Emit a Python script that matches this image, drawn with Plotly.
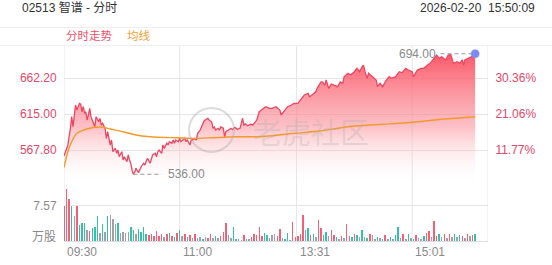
import plotly.graph_objects as go

# ---------------- data ----------------
title_text = "02513 智谱 - 分时"
stamp_text = "2026-02-20  15:50:09"
legend_names = ["分时走势", "均线"]

# minutes since 09:30 (trading minutes) and last price
minutes = [0, 3, 5, 6, 7, 8, 9, 10, 12, 13, 14, 15, 16, 17, 18, 19, 20, 21, 23, 24,
           25, 27, 28, 29, 30, 32, 33, 34, 36, 37, 38, 40, 41, 42, 43, 45, 46, 47, 49, 50,
           51, 52, 53, 54, 55, 56, 58, 59, 60, 62, 63, 64, 65, 67, 68, 69, 71, 72, 73, 74,
           76, 77, 78, 80, 81, 82, 84, 85, 86, 87, 89, 90, 91, 93, 94, 95, 96, 98, 99, 100,
           102, 103, 104, 106, 107, 108, 109, 111, 112, 113, 115, 116, 117, 118, 120, 121, 122, 124, 125, 126,
           128, 130, 131, 133, 135, 137, 138, 139, 140, 141, 143, 145, 147, 148, 150, 152, 155, 157, 160, 162,
           165, 168, 169, 171, 174, 177, 179, 182, 184, 187, 190, 191, 193, 196, 197, 200, 201, 203, 204, 206,
           208, 210, 213, 215, 217, 218, 221, 223, 226, 228, 230, 232, 233, 235, 236, 237, 240, 243, 244, 246,
           248, 250, 253, 255, 258, 261, 263, 266, 268, 271, 272, 275, 278, 280, 283, 285, 288, 290, 292, 294,
           297, 299, 301, 302, 303, 306, 308, 310, 311, 312, 315, 317, 319, 320]
prices = [560.0, 574.4, 596.3, 611.5, 598.3, 613.7, 626.8, 620.2, 629.0, 628.0, 618.0, 624.6, 615.9, 618.0, 607.1, 613.7, 622.4, 611.5, 602.8, 598.4,
          611.5, 604.9, 609.3, 600.6, 602.8, 596.2, 583.1, 591.8, 574.4, 580.9, 565.6, 570.0, 563.5, 567.8, 559.0, 565.6, 554.7, 559.0, 552.5, 561.3,
          554.7, 550.0, 541.0, 536.0, 538.5, 543.8, 538.0, 541.6, 545.9, 550.4, 548.0, 553.0, 556.9, 550.4, 556.9, 561.3, 563.5, 559.0, 565.6, 567.8,
          563.5, 574.4, 570.0, 576.6, 574.4, 578.7, 576.6, 580.9, 576.6, 580.9, 578.7, 583.1, 578.7, 580.9, 583.1, 578.7, 580.9, 574.4, 580.9, 580.9,
          583.1, 580.9, 589.7, 594.0, 598.0, 602.8, 605.8, 608.4, 609.4, 607.1, 604.5, 596.3, 598.0, 594.0, 596.3, 594.0, 598.0, 596.3, 585.2, 591.8,
          594.0, 596.3, 594.5, 597.5, 595.0, 596.3, 602.8, 609.4, 600.6, 602.0, 599.5, 601.5, 600.6, 602.8, 607.1, 618.0, 622.5, 624.6, 622.5, 622.5,
          624.6, 620.2, 613.7, 618.0, 624.6, 626.8, 629.0, 629.0, 633.4, 639.9, 642.1, 637.7, 639.9, 644.2, 648.7, 657.0, 657.3, 653.0, 659.6, 648.7,
          654.3, 653.0, 650.8, 657.0, 655.3, 663.9, 668.4, 666.1, 670.5, 674.9, 670.5, 677.0, 679.2, 666.1, 661.8, 668.4, 663.9, 659.6, 650.8, 655.3,
          650.8, 657.3, 663.9, 661.8, 663.9, 670.5, 669.0, 674.9, 672.7, 670.5, 663.9, 672.7, 674.9, 674.9, 679.2, 681.5, 688.0, 692.4, 688.0, 690.1,
          685.8, 692.4, 693.0, 688.0, 681.5, 683.6, 681.5, 685.8, 679.2, 685.8, 688.0, 690.1, 692.4, 694.0]

avg_minutes = [0, 3, 6, 10, 15, 20, 25, 30, 36, 46, 56, 67, 86, 102, 115, 133, 152, 180, 199, 221, 247, 261, 283, 294, 320]
avg_prices = [545.0, 565.6, 578.7, 589.7, 594.0, 596.3, 597.6, 597.6, 595.3, 591.8, 587.5, 585.2, 583.9, 583.1, 583.9, 585.2, 585.2,
              589.7, 592.7, 598.3, 601.5, 602.8, 606.2, 608.1, 611.5]

# volume (万股) per 2-minute slot and tick direction (1 up, -1 down, 0 flat)
vol_minutes = list(range(0, 321, 2))
volumes = [7.6, 11.1, 9.0, 7.6, 5.3, 7.6, 3.5, 3.9, 3.8, 2.4, 2.2, 2.8, 3.1, 5.3, 1.8, 3.6, 1.9, 5.3, 5.6, 4.8,
           3.6, 3.9, 1.8, 2.0, 1.7, 1.9, 3.1, 2.4, 1.6, 2.5, 1.9, 3.0, 1.6, 1.2, 1.5, 1.0, 2.1, 1.0, 1.6, 0.9,
           1.5, 1.8, 1.1, 0.8, 1.7, 2.3, 1.0, 1.4, 0.8, 1.2, 0.7, 1.5, 0.6, 0.8, 0.5, 0.9, 0.7, 1.4, 0.6, 1.1,
           0.6, 1.1, 1.9, 3.9, 1.2, 0.7, 3.1, 0.4, 0.5, 0.3, 1.3, 0.5, 0.4, 0.9, 1.6, 1.3, 3.0, 1.0, 1.8, 1.3,
           0.7, 1.2, 1.5, 1.0, 2.5, 0.7, 0.5, 1.8, 0.3, 4.1, 0.8, 1.1, 1.4, 5.6, 2.3, 2.8, 1.2, 1.5, 0.9, 4.6,
           2.8, 1.3, 1.9, 1.0, 2.3, 1.3, 0.8, 0.5, 1.1, 0.7, 3.6, 1.1, 0.9, 1.6, 1.2, 0.8, 2.4, 0.9, 0.6, 1.5,
           1.3, 0.4, 0.8, 0.6, 0.5, 1.2, 0.4, 0.9, 0.5, 1.2, 2.9, 0.6, 1.4, 0.4, 1.6, 0.6, 0.5, 1.2, 0.7, 0.4,
           1.0, 1.7, 2.2, 0.9, 4.3, 1.0, 1.6, 0.8, 1.4, 0.6, 1.6, 0.8, 1.6, 0.9, 1.3, 1.1, 0.6, 1.5, 1.0, 1.3, 1.5]
vol_dirs = [1, 1, 1, -1, 0, 1, -1, -1, -1, 0, 1, -1, -1, -1, 0, -1, 0, -1, 0, 0,
            0, -1, 0, 0, 0, 0, -1, -1, 0, -1, -1, -1, -1, 1, 1, 1, 1, 1, 1, 0,
            1, -1, 1, -1, 1, -1, 0, 1, -1, 1, 0, 1, -1, 0, -1, 0, 1, 1, 0, -1,
            0, 1, 1, 1, 0, 0, -1, -1, 0, 0, 1, -1, 0, 1, 1, 1, 1, 1, -1, -1,
            0, 0, 0, 1, 1, 0, -1, -1, 0, 1, 1, 1, 1, 1, 0, -1, 1, -1, 0, 1,
            1, -1, -1, 0, 1, 1, -1, 0, 1, 0, 1, 1, -1, 1, -1, 0, -1, 0, -1, 1,
            0, 0, -1, 0, -1, 1, 0, -1, 0, -1, -1, 0, 1, 0, -1, 0, -1, 1, 0, 0,
            -1, 1, 1, 0, 1, 1, -1, 0, 1, 0, 1, 0, -1, 0, -1, 1, 0, 1, 0, 1, -1]

time_tick_minutes = [0, 90, 181, 271]
time_tick_labels = ["09:30", "11:00", "13:31", "15:01"]
session_minutes = 330
price_tick_values = [567.80, 615.00, 662.20]
pct_tick_labels = ["11.77%", "21.06%", "30.36%"]
price_axis_range = [520.6, 705.5]
vol_tick_value = 7.57
vol_unit = "万股"
vol_axis_max = 11.79

# ---------------- styling ----------------
W, H = 552, 265
PL, PR = 64, 488          # plot left / right (px)
PT, PB, VB = 45, 186, 241  # price top, price bottom, volume bottom (px)
RED = "#ef4560"
LABEL_RED = "#e2486a"
ORANGE = "#f39a2b"
GRAY = "#8a8a8a"
GRID = "#e6e6e6"
FONT = "Liberation Sans, Noto Sans CJK SC, sans-serif"

def xp(px):
    return px / W

def yp(py):
    return 1 - py / H

dir_colors = {1: "rgba(242,80,104,0.9)", -1: "rgba(30,186,160,0.9)", 0: "rgba(150,150,158,0.9)"}
bar_colors = [dir_colors[d] for d in vol_dirs]

hi_i = max(range(len(prices)), key=lambda i: prices[i])
lo_i = min(range(len(prices)), key=lambda i: prices[i])

fig = go.Figure()

# price area with vertical gradient
fig.add_trace(go.Scatter(
    x=minutes, y=prices, mode="lines", xaxis="x", yaxis="y",
    line=dict(color=RED, width=1.3), fill="tozeroy",
    fillgradient=dict(type="vertical",
                      colorscale=[[0, "rgba(255,255,255,0)"],
                                  [0.45, "rgba(250,140,150,0.55)"],
                                  [1, "rgba(250,75,92,0.92)"]],
                      start=price_axis_range[0], stop=prices[hi_i]),
    hoverinfo="skip", showlegend=False))

# average line
fig.add_trace(go.Scatter(
    x=avg_minutes, y=avg_prices, mode="lines", xaxis="x", yaxis="y",
    line=dict(color=ORANGE, width=1.4, shape="spline", smoothing=0.6),
    hoverinfo="skip", showlegend=False))

# high / low dashed markers
fig.add_trace(go.Scatter(
    x=[minutes[lo_i], minutes[lo_i] + 22], y=[prices[lo_i], prices[lo_i]],
    mode="lines", line=dict(color="#9a9a9a", width=1.2, dash="4px,3px"),
    xaxis="x", yaxis="y", hoverinfo="skip", showlegend=False))
fig.add_trace(go.Scatter(
    x=[minutes[hi_i] - 27, minutes[hi_i]], y=[prices[hi_i], prices[hi_i]],
    mode="lines", line=dict(color="#9a9a9a", width=1.2, dash="4px,3px"),
    xaxis="x", yaxis="y", hoverinfo="skip", showlegend=False))

# last price dot
fig.add_trace(go.Scatter(
    x=[minutes[-1]], y=[prices[-1]], mode="markers", xaxis="x", yaxis="y",
    marker=dict(color="#7a8cf2", size=8, line=dict(color="rgba(122,140,242,0.35)", width=1.5)),
    hoverinfo="skip", showlegend=False))

# right percent axis carrier
fig.add_trace(go.Scatter(
    x=[minutes[0]], y=[prices[0]], mode="markers", xaxis="x", yaxis="y3",
    marker=dict(opacity=0), hoverinfo="skip", showlegend=False))

# volume bars
fig.add_trace(go.Bar(
    x=vol_minutes, y=volumes, xaxis="x2", yaxis="y2",
    marker=dict(color=bar_colors, line=dict(width=0)), width=1.15,
    hoverinfo="skip", showlegend=False))

shapes = []
# vertical grid lines (session borders + time ticks) through both panes
for m in [0] + time_tick_minutes[1:] + [session_minutes]:
    shapes.append(dict(type="line", xref="x", yref="paper", x0=m, x1=m,
                       y0=yp(VB), y1=yp(PT), line=dict(color=GRID, width=1), layer="below"))
# legend row borders
for py in (27.5, 45.5):
    shapes.append(dict(type="line", xref="paper", yref="paper", x0=0, x1=1,
                       y0=yp(py), y1=yp(py), line=dict(color="#efefef", width=1), layer="below"))
# watermark circle
shapes.append(dict(type="circle", xref="paper", yref="paper",
                   x0=xp(189), x1=xp(234), y0=yp(152), y1=yp(108),
                   line=dict(color="rgba(175,175,175,0.45)", width=2), layer="above"))

annotations = [
    dict(text=title_text, x=xp(20), y=yp(8), xref="paper", yref="paper", xanchor="left",
         yanchor="middle", showarrow=False, font=dict(size=12, color="#333333", family=FONT)),
    dict(text=stamp_text, x=xp(537), y=yp(8), xref="paper", yref="paper", xanchor="right",
         yanchor="middle", showarrow=False, font=dict(size=12, color="#333333", family=FONT)),
    dict(text=legend_names[0], x=xp(64), y=yp(36), xref="paper", yref="paper", xanchor="left",
         yanchor="middle", showarrow=False, font=dict(size=11.5, color="#ee5068", family=FONT)),
    dict(text=legend_names[1], x=xp(125), y=yp(36), xref="paper", yref="paper", xanchor="left",
         yanchor="middle", showarrow=False, font=dict(size=11.5, color="#f3a035", family=FONT)),
    dict(text=f"{prices[lo_i]:.2f}", x=minutes[lo_i] + 25, y=prices[lo_i], xref="x", yref="y",
         xanchor="left", yanchor="middle", showarrow=False, font=dict(size=12, color=GRAY, family=FONT)),
    dict(text=f"{prices[hi_i]:.2f}", x=minutes[hi_i] - 29, y=prices[hi_i], xref="x", yref="y",
         xanchor="right", yanchor="middle", showarrow=False, font=dict(size=12, color=GRAY, family=FONT)),
    dict(text=vol_unit, x=xp(58), y=yp(237), xref="paper", yref="paper", xanchor="right",
         yanchor="middle", showarrow=False, font=dict(size=12, color=GRAY, family=FONT)),
    dict(text="老虎社区", x=xp(311), y=yp(131), xref="paper", yref="paper", xanchor="center",
         yanchor="middle", showarrow=False,
         font=dict(size=29, color="rgba(170,170,170,0.28)", family="Noto Sans CJK SC")),
]
for m, lab in zip(time_tick_minutes, time_tick_labels):
    annotations.append(dict(text=lab, x=m, y=yp(252), xref="x", yref="paper", xanchor="left",
                            yanchor="middle", showarrow=False, xshift=1,
                            font=dict(size=12, color=GRAY, family=FONT)))

fig.update_layout(
    width=W, height=H, autosize=False,
    margin=dict(l=0, r=0, t=0, b=0),
    paper_bgcolor="white", plot_bgcolor="rgba(0,0,0,0)",
    bargap=0, showlegend=False,
    xaxis=dict(domain=[xp(PL), xp(PR)], range=[0, session_minutes], anchor="y",
               showgrid=False, zeroline=False, showticklabels=False, fixedrange=True),
    xaxis2=dict(domain=[xp(PL), xp(PR)], range=[0, session_minutes], anchor="y2", matches="x",
                showgrid=False, zeroline=False, showticklabels=False,
                showline=True, linecolor="#dedede", linewidth=1),
    yaxis=dict(domain=[yp(PB), yp(PT)], range=price_axis_range, anchor="x",
               tickvals=price_tick_values, ticktext=[f"{v:.2f}" for v in price_tick_values],
               tickfont=dict(size=12, color=LABEL_RED, family=FONT),
               ticks="outside", ticklen=4, tickcolor="rgba(0,0,0,0)",
               showgrid=True, gridcolor=GRID, zeroline=False, showline=False),
    yaxis3=dict(overlaying="y", side="right", range=price_axis_range, anchor="x",
                tickvals=price_tick_values, ticktext=pct_tick_labels,
                tickfont=dict(size=12, color=LABEL_RED, family=FONT),
                ticks="outside", ticklen=4, tickcolor="rgba(0,0,0,0)",
                showgrid=False, zeroline=False, showline=False),
    yaxis2=dict(domain=[yp(VB), yp(PB)], range=[0, vol_axis_max], anchor="x2",
                tickvals=[vol_tick_value], ticktext=[f"{vol_tick_value:.2f}"],
                tickfont=dict(size=12, color=GRAY, family=FONT),
                ticks="outside", ticklen=4, tickcolor="rgba(0,0,0,0)",
                showgrid=True, gridcolor=GRID, zeroline=False, showline=False),
    shapes=shapes, annotations=annotations,
)

fig.write_html("out.html")
